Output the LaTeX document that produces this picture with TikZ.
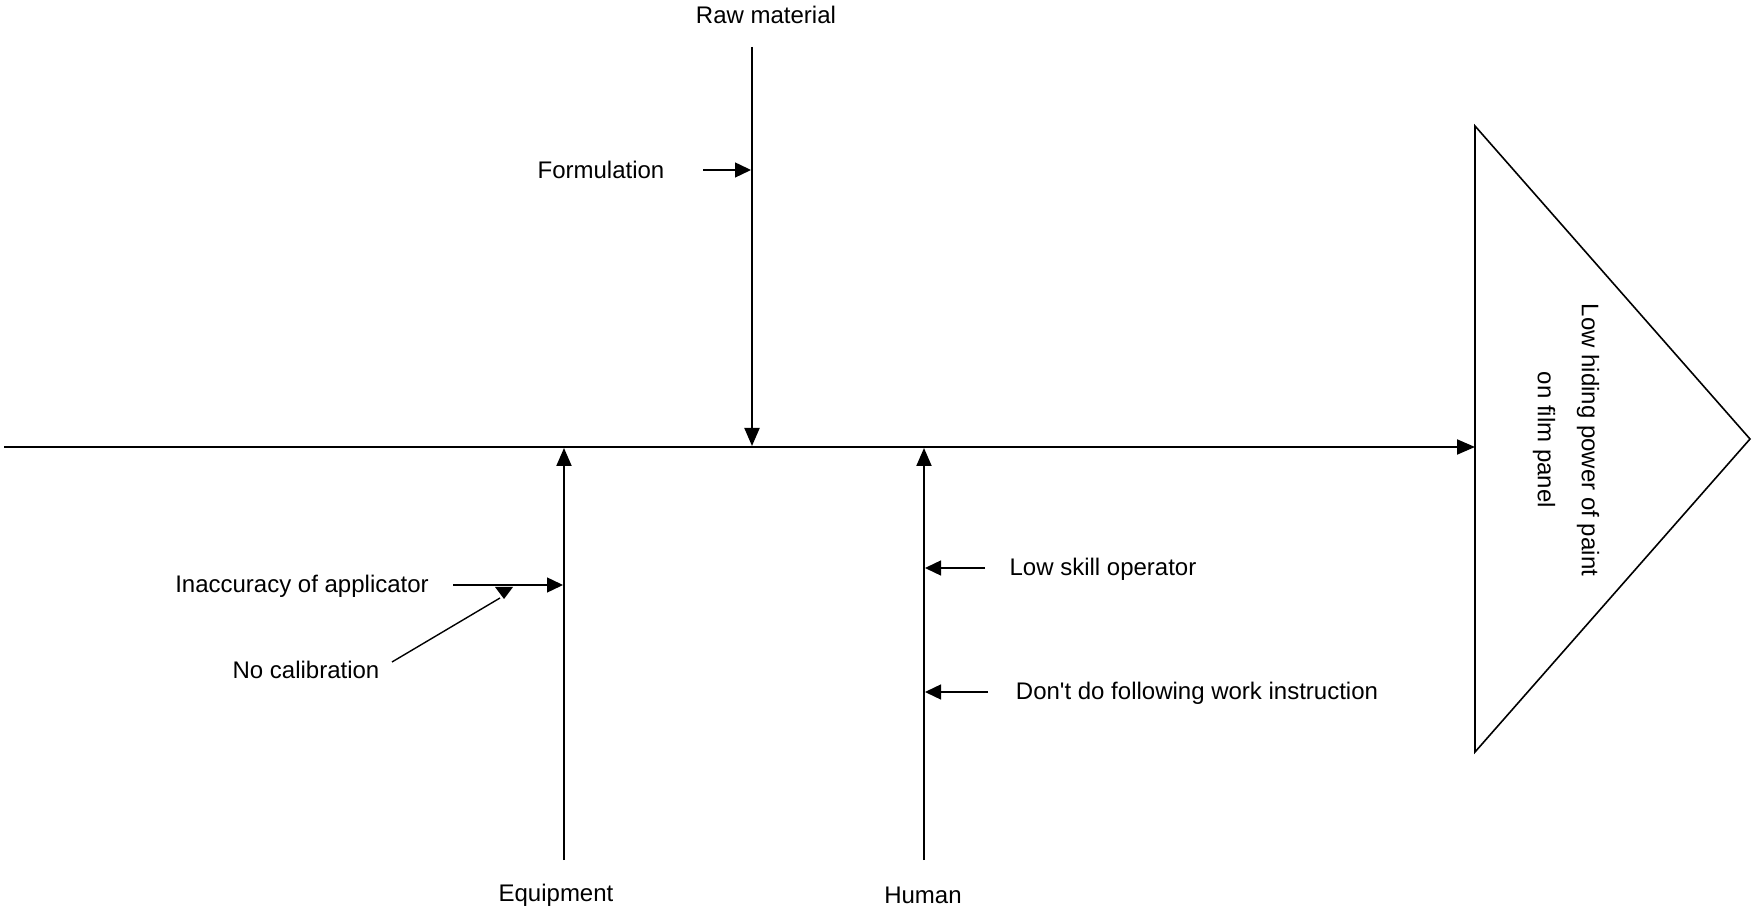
\documentclass[tikz,border=0pt]{standalone}
\usepackage{fontspec}
\setmainfont{Liberation Sans}
\usetikzlibrary{arrows.meta}
\begin{document}
\begin{tikzpicture}[x=0.5pt,y=-0.5pt,
  font=\fontsize{12}{22}\selectfont,
  bone/.style={line width=1pt},
  thin bone/.style={line width=0.7pt},
  tipped/.style={-{Triangle[length=9pt,width=7.5pt]}},
  small tipped/.style={-{Triangle[length=8pt,width=7.5pt]}},
  lbl/.style={inner sep=0pt, anchor=center}]
\useasboundingbox (0,0) rectangle (1752,908);

% effect: head of the fish
\coordinate (headtop) at (1475,126);
\coordinate (headtip) at (1750,439);
\coordinate (headbot) at (1475,752);
\draw[line width=0.8pt] (headtop) -- (headtip) -- (headbot) -- cycle;
\node[lbl, rotate=-90, align=center] (effect) at (1566,440)
  {Low hiding power of paint\\on film panel};

% spine
\coordinate (tail) at (4,447);
\coordinate (spineend) at (1475,447);
\draw[bone, tipped] (tail) -- (spineend);

% main bones
\node[lbl] (raw) at (766,15) {Raw material};
\coordinate (rawtop) at (752,47);
\coordinate (rawhit) at (752,446);
\draw[bone, tipped] (rawtop) -- (rawhit);

\node[lbl] (equip) at (556,895) {Equipment};
\coordinate (equipbot) at (564,860);
\coordinate (equiphit) at (564,448);
\draw[bone, tipped] (equipbot) -- (equiphit);

\node[lbl] (human) at (923,895) {Human};
\coordinate (humanbot) at (924,860);
\coordinate (humanhit) at (924,448);
\draw[bone, tipped] (humanbot) -- (humanhit);

% causes on Raw material
\node[lbl] (form) at (601,170) {Formulation};
\coordinate (formstart) at (703,170);
\coordinate (formhit) at (751,170);
\draw[thin bone, small tipped] (formstart) -- (formhit);

% causes on Equipment
\node[lbl] (inacc) at (302,586) {Inaccuracy of applicator};
\coordinate (inaccstart) at (453,585);
\coordinate (inacchit) at (563,585);
\draw[thin bone, small tipped] (inaccstart) -- (inacchit);

\node[lbl] (nocal) at (306,670) {No calibration};
\coordinate (nocalstart) at (392,662);
\coordinate (nocalhit) at (500,598);
\draw[thin bone] (nocalstart) -- (nocalhit);
\fill (495,587) -- (513,587) -- (504,599) -- cycle;

% causes on Human
\node[lbl] (skill) at (1103,569) {Low skill operator};
\coordinate (skillstart) at (985,568);
\coordinate (skillhit) at (925,568);
\draw[thin bone, small tipped] (skillstart) -- (skillhit);

\node[lbl] (instr) at (1197,693) {Don\textquotesingle t do following work instruction};
\coordinate (instrstart) at (988,692);
\coordinate (instrhit) at (925,692);
\draw[thin bone, small tipped] (instrstart) -- (instrhit);
\end{tikzpicture}
\end{document}
